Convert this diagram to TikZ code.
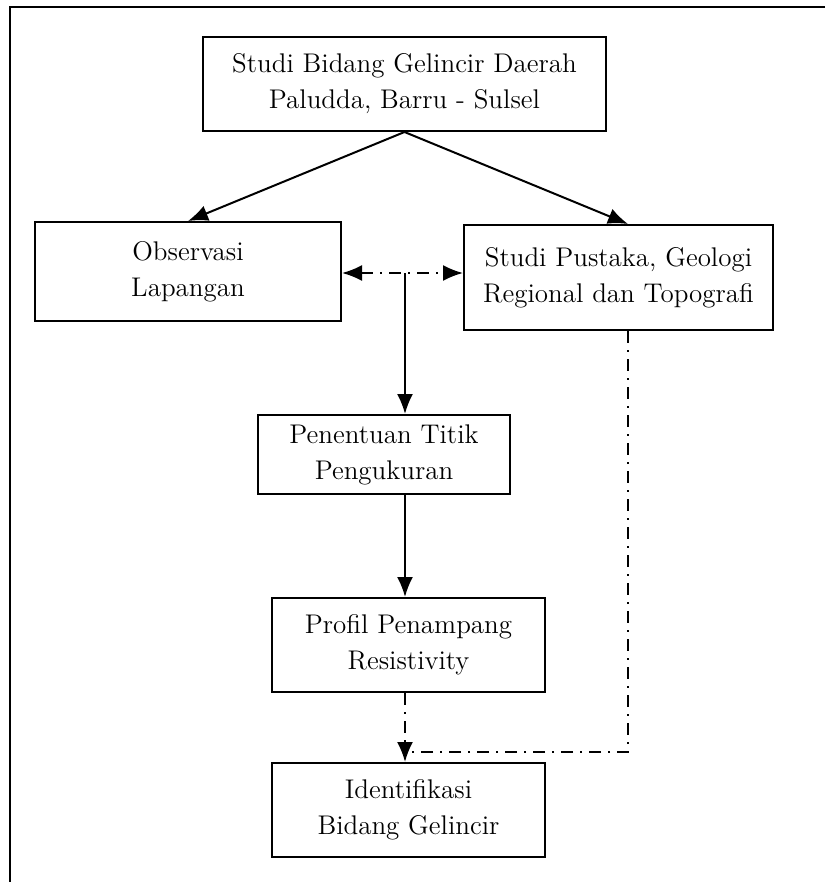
\documentclass[tikz,border=0pt]{standalone}
\usetikzlibrary{arrows.meta}
\tikzset{>={Latex[length=10pt,width=8pt]}}
\tikzset{box/.style={draw, line width=1pt, align=center, inner sep=0pt, font=\fontsize{13.5}{18}\selectfont}}
\tikzset{dashdotline/.style={dash pattern=on 6pt off 3.5pt on 1pt off 3.5pt}}

\begin{document}
\begin{tikzpicture}[x=0.5pt, y=-0.5pt, line width=1pt]
    \useasboundingbox(0, 0)rectangle(825, 882);
    \draw(825, 7)--(10, 7)--(10, 882);
    \node[box, minimum width=201.5pt, minimum height=47pt](studi)at(404.5, 84){Studi Bidang Gelincir Daerah\\Paludda, Barru - Sulsel};
    \node[box, minimum width=153pt, minimum height=49.5pt](obs)at(188, 271.5){Observasi\\Lapangan};
    \node[box, minimum width=154.5pt, minimum height=52.5pt](pustaka)at(618.5, 277.5){Studi Pustaka, Geologi\\Regional dan Topografi};
    \node[box, minimum width=126pt, minimum height=39.5pt](titik)at(384, 454.5){Penentuan Titik\\Pengukuran};
    \node[box, minimum width=136.5pt, minimum height=47pt](profil)at(408.5, 645){Profil Penampang\\Resistivity};
    \node[box, minimum width=136.5pt, minimum height=47pt](ident)at(408.5, 810){Identifikasi\\Bidang Gelincir};
    \coordinate(mid)at(405, 273);
    \coordinate(join)at(405, 752);
    \coordinate(corner)at(628, 752);
    \draw[->](studi.south)--(obs.north);
    \draw[->](studi.south)--(pustaka.north -| corner);
    \draw[<->, dashdotline](obs.east |- mid)--(pustaka.west |- mid);
    \draw[->](mid)--(mid |- titik.north);
    \draw[->](titik.south -| mid)--(profil.north -| mid);
    \draw[dashdotline](profil.south -| join)--(join);
    \draw[dashdotline](pustaka.south -| corner)--(corner)--(join);
    \draw[->](join)--(ident.north -| join);
\end{tikzpicture}
\end{document}
